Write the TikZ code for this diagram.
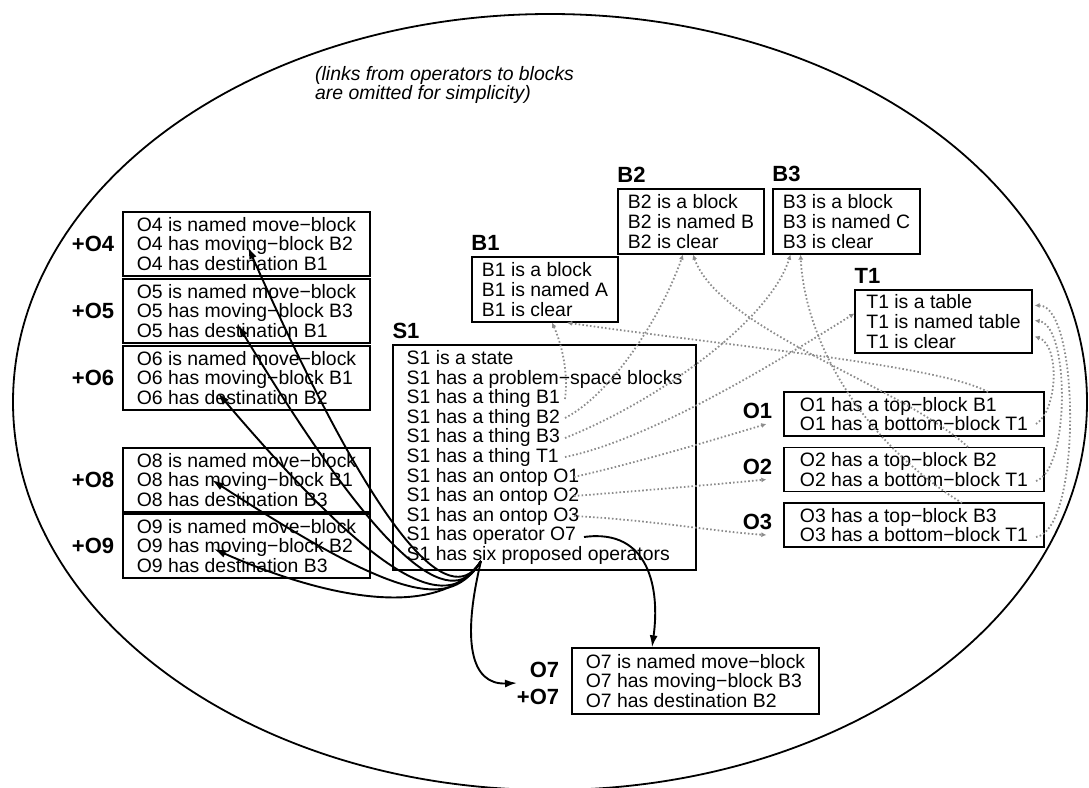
\documentclass[tikz,border=0pt]{standalone}
\usepackage{fontspec}
\setmainfont{Liberation Sans}
\usetikzlibrary{arrows.meta, calc, positioning}

\begin{document}
\begin{tikzpicture}[
    x=1pt, y=-1pt,
    factBox/.style={draw, line width=1.3pt, align=left, inner xsep=10pt, inner ysep=0pt,
        font=\fontsize{19.4}{19.6}\selectfont},
    opBox/.style={factBox, minimum width=247pt, minimum height=64pt},
    blockBox/.style={factBox, minimum width=144pt, minimum height=65pt},
    ontopBox/.style={factBox, minimum width=260pt, minimum height=44pt},
    idLabel/.style={inner sep=0pt, font=\fontsize{22}{24}\selectfont\bfseries},
    refLink/.style={draw=gray!90, line width=1.8pt, dash pattern=on 1.6pt off 2.2pt, -{Latex[length=5pt, width=5pt]}},
    opLink/.style={line width=1.9pt, -{Latex[length=12pt, width=8pt]}}
    ]
    \useasboundingbox (0,0) rectangle (1089,787);
    \draw[line width=1.8pt] (550,402) ellipse [x radius=537pt, y radius=388pt];

    \node[align=left, inner sep=0pt, anchor=west, font=\fontsize{19.4}{19.2}\selectfont\itshape] (note) at (315,85)
        {(links from operators to blocks\\are omitted for simplicity)};

    % proposed operators
    \node[opBox] (o4) at (246.5,244) {O4 is named move−block\\O4 has moving−block B2\\O4 has destination B1};
    \node[opBox] (o5) at (246.5,311) {O5 is named move−block\\O5 has moving−block B3\\O5 has destination B1};
    \node[opBox] (o6) at (246.5,378) {O6 is named move−block\\O6 has moving−block B1\\O6 has destination B2};
    \node[opBox] (o8) at (246.5,480) {O8 is named move−block\\O8 has moving−block B1\\O8 has destination B3};
    \node[opBox] (o9) at (246.5,546) {O9 is named move−block\\O9 has moving−block B2\\O9 has destination B3};
    \node[opBox, minimum height=66pt] (o7) at (695.5,681) {O7 is named move−block\\O7 has moving−block B3\\O7 has destination B2};

    \node[idLabel, anchor=east, xshift=-8pt] (o4lbl) at (o4.west) {+O4};
    \node[idLabel, anchor=east, xshift=-8pt] (o5lbl) at (o5.west) {+O5};
    \node[idLabel, anchor=east, xshift=-8pt] (o6lbl) at (o6.west) {+O6};
    \node[idLabel, anchor=east, xshift=-8pt] (o8lbl) at (o8.west) {+O8};
    \node[idLabel, anchor=east, xshift=-8pt] (o9lbl) at (o9.west) {+O9};
    \node[idLabel, anchor=east] (o7lbl) at ($(o7.west)+(-12,-11)$) {O7};
    \node[idLabel, anchor=east] (o7plus) at ($(o7.west)+(-12,16)$) {+O7};

    % state
    \node[factBox, minimum width=303pt, minimum height=225pt] (s1) at (544.5,457.5)
        {S1 is a state\\S1 has a problem−space blocks\\S1 has a thing B1\\S1 has a thing B2\\S1 has a thing B3\\S1 has a thing T1\\S1 has an ontop O1\\S1 has an ontop O2\\S1 has an ontop O3\\S1 has operator O7\\S1 has six proposed operators};
    \node[idLabel, anchor=south west, yshift=5pt] (s1lbl) at (s1.north west) {S1};

    % blocks and table
    \node[blockBox] (b1) at (545,289.5) {B1 is a block\\B1 is named A\\B1 is clear};
    \node[blockBox] (b2) at (691,221.5) {B2 is a block\\B2 is named B\\B2 is clear};
    \node[blockBox] (b3) at (846.5,221.5) {B3 is a block\\B3 is named C\\B3 is clear};
    \node[factBox, minimum width=177pt, minimum height=63pt] (t1) at (943.5,321.5) {T1 is a table\\T1 is named table\\T1 is clear};
    \node[idLabel, anchor=south west, yshift=6pt] (b1lbl) at (b1.north west) {B1};
    \node[idLabel, anchor=south west, yshift=6pt] (b2lbl) at (b2.north west) {B2};
    \node[idLabel, anchor=south west, yshift=6pt] (b3lbl) at (b3.north west) {B3};
    \node[idLabel, anchor=south west, yshift=6pt] (t1lbl) at (t1.north west) {T1};

    % ontop relations
    \node[ontopBox] (on1) at (914,414) {O1 has a top−block B1\\O1 has a bottom−block T1};
    \node[ontopBox] (on2) at (914,469.5) {O2 has a top−block B2\\O2 has a bottom−block T1};
    \node[ontopBox] (on3) at (914,525) {O3 has a top−block B3\\O3 has a bottom−block T1};
    \node[idLabel, anchor=east, xshift=-11pt, yshift=3pt] (on1lbl) at (on1.west) {O1};
    \node[idLabel, anchor=east, xshift=-11pt, yshift=3pt] (on2lbl) at (on2.west) {O2};
    \node[idLabel, anchor=east, xshift=-11pt, yshift=3pt] (on3lbl) at (on3.west) {O3};

    % link ends
    \coordinate (s1B1) at (565,399);
    \coordinate (s1B2) at (565,418);
    \coordinate (s1B3) at (565,438);
    \coordinate (s1T1) at (565,457);
    \coordinate (s1O1) at (574,477);
    \coordinate (s1O2) at (574,496);
    \coordinate (s1O3) at (574,516);
    \coordinate (s1op) at (584,537);
    \coordinate (s1six) at (481,561);
    \coordinate (on1B1) at (988,392);
    \coordinate (on2B2) at (968,447);
    \coordinate (on3B3) at (962,503);
    \coordinate (on1T1) at (1036,424);
    \coordinate (on2T1) at (1036,481);
    \coordinate (on3T1) at (1036,537);
    \coordinate (o4tip) at (248,247);
    \coordinate (o5tip) at (238,325);
    \coordinate (o6tip) at (218,393);
    \coordinate (o8tip) at (212,480);
    \coordinate (o9tip) at (214,549);
    \coordinate (o7tip) at (517,683);

    \draw[refLink] (s1B1) .. controls (569,370) and (560,340) .. ($(b1.south)+(7,0)$);
    \draw[refLink] (s1B2) .. controls (610,395) and (660,320) .. ($(b2.south)+(-8,0)$);
    \draw[refLink] (s1B3) .. controls (660,400) and (770,320) .. ($(b3.south)+(-56,0)$);
    \draw[refLink] (s1T1) .. controls (650,440) and (780,360) .. ($(t1.west)+(0,-8)$);
    \draw[refLink] (s1O1) .. controls (640,462) and (720,438) .. ($(on1lbl.south east)+(-6,5)$);
    \draw[refLink] (s1O2) .. controls (650,490) and (720,484) .. ($(on2lbl.south east)+(-6,5)$);
    \draw[refLink] (s1O3) .. controls (650,520) and (720,532) .. ($(on3lbl.south east)+(-6,5)$);
    \draw[refLink] (on1B1) .. controls (940,365) and (720,345) .. ($(b1.south)+(22,0)$);
    \draw[refLink] (on2B2) .. controls (900,385) and (720,330) .. ($(b2.south)+(2,0)$);
    \draw[refLink] (on3B3) .. controls (860,440) and (805,340) .. ($(b3.south)+(-46,0)$);
    \draw[refLink] (on1T1) .. controls (1058,410) and (1060,345) .. ($(t1.east)+(2,15)$);
    \draw[refLink] (on2T1) .. controls (1070,470) and (1070,325) .. ($(t1.east)+(2,-1)$);
    \draw[refLink] (on3T1) .. controls (1082,530) and (1080,305) .. ($(t1.east)+(2,-16)$);

    \draw[opLink] (s1six) .. controls (455,605) and (393,573) .. (o4tip);
    \draw[opLink] (s1six) .. controls (455,608) and (395,585) .. (o5tip);
    \draw[opLink] (s1six) .. controls (450,612) and (390,595) .. (o6tip);
    \draw[opLink] (s1six) .. controls (450,610) and (400,602) .. (o8tip);
    \draw[opLink] (s1six) .. controls (440,620) and (330,600) .. (o9tip);
    \draw[opLink] (s1six) .. controls (462,640) and (470,685) .. (o7tip);
    \draw[opLink] (s1op) .. controls (650,528) and (660,590) .. (o7.north -| 652,0);
\end{tikzpicture}
\end{document}
